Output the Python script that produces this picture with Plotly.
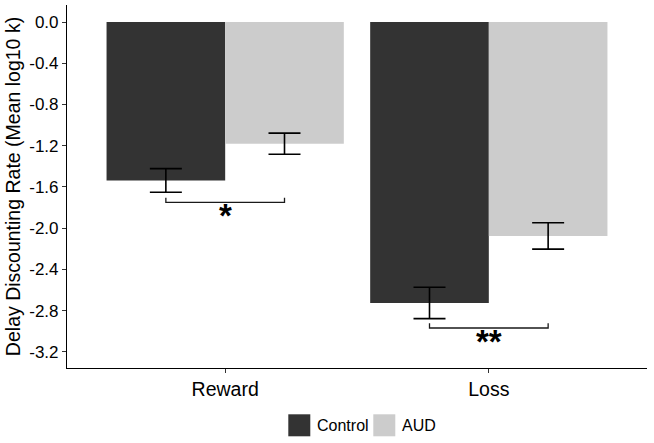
import plotly.graph_objects as go

# ---- data ----
categories = ["Reward", "Loss"]
series_names = ["Control", "AUD"]
control_mean = [-1.537, -2.725]
control_se = [0.115, 0.152]
aud_mean = [-1.180, -2.075]
aud_se = [0.102, 0.128]
series_colors = ["#333333", "#cccccc"]
y_tick_vals = [0.0, -0.4, -0.8, -1.2, -1.6, -2.0, -2.4, -2.8, -3.2]
y_tick_text = ["0.0", "-0.4", "-0.8", "-1.2", "-1.6", "-2.0", "-2.4", "-2.8", "-3.2"]
sig_labels = ["*", "**"]
bracket_y = [-1.75, -2.968]
bracket_tip = 0.045
y_title = "Delay Discounting Rate (Mean log10 k)"

# ---- layout constants ----
W, H = 654, 443
L, R, T, B = 67, 7, 5, 75
DODGE = 0.9
half = DODGE / 4  # centre offset of each bar in a group

x_idx = list(range(len(categories)))
means = [control_mean, aud_mean]
ses = [control_se, aud_se]

fig = go.Figure()
for name, m, s, c in zip(series_names, means, ses, series_colors):
    fig.add_trace(go.Bar(
        x=x_idx, y=m, name=name, marker=dict(color=c, line=dict(width=0)),
        error_y=dict(type="data", array=s, visible=True, color="black",
                     thickness=1.6, width=16),
        showlegend=False,
    ))

# significance brackets
for i, by, lab in zip(x_idx, bracket_y, sig_labels):
    fig.add_trace(go.Scatter(
        x=[i - half, i - half, i + half, i + half],
        y=[by + bracket_tip, by, by, by + bracket_tip],
        mode="lines", line=dict(color="#1a1a1a", width=1.3),
        showlegend=False, hoverinfo="skip",
    ))
    fig.add_annotation(x=i, y=by - 0.13, text=lab, showarrow=False,
                       xref="x", yref="y", yanchor="middle",
                       font=dict(family="Liberation Sans", size=33, color="black",
                                 weight="bold"))

# manual legend (ggplot style, square swatches)
pw = W - L - R
ph = H - T - B
def px(xp):
    return (xp - L) / pw
def py(yp):
    return (H - B - yp) / ph

leg_x0 = [288.3, 373.3]
sw = 22
for name, c, x0 in zip(series_names, series_colors, leg_x0):
    fig.add_shape(type="rect", xref="paper", yref="paper",
                  x0=px(x0), x1=px(x0 + sw), y0=py(414.3 + sw), y1=py(414.3),
                  fillcolor=c, line=dict(width=0))
    fig.add_annotation(xref="paper", yref="paper", x=px(x0 + sw + 5), y=py(425.3),
                       text=name, showarrow=False, xanchor="left", yanchor="middle",
                       font=dict(family="Liberation Sans", size=16, color="black"))

fig.update_layout(
    width=W, height=H,
    margin=dict(l=L, r=R, t=T, b=B),
    barmode="group", bargap=1 - DODGE, bargroupgap=0,
    plot_bgcolor="white", paper_bgcolor="white",
    font=dict(family="Liberation Sans", color="black"),
)
fig.update_xaxes(
    range=[-0.6, len(categories) - 1 + 0.6],
    tickvals=x_idx, ticktext=categories,
    tickfont=dict(size=19.5, color="black"),
    showline=True, linecolor="black", linewidth=1.1,
    ticks="outside", ticklen=4, tickcolor="#333333", tickwidth=1.1,
    showgrid=False, zeroline=False,
)
fig.update_yaxes(
    range=[-3.356, 0.165],
    tickvals=y_tick_vals, ticktext=y_tick_text,
    tickfont=dict(size=17, color="black"),
    showline=True, linecolor="black", linewidth=1.1,
    ticks="outside", ticklen=4, tickcolor="#333333", tickwidth=1.1,
    showgrid=False, zeroline=False,
    title=dict(text=y_title, font=dict(size=19.5, color="black"), standoff=3),
)

fig.write_html(
    "out.html",
    config={"displayModeBar": False},
    post_script="document.body.style.margin='0';document.body.style.padding='0';",
)
